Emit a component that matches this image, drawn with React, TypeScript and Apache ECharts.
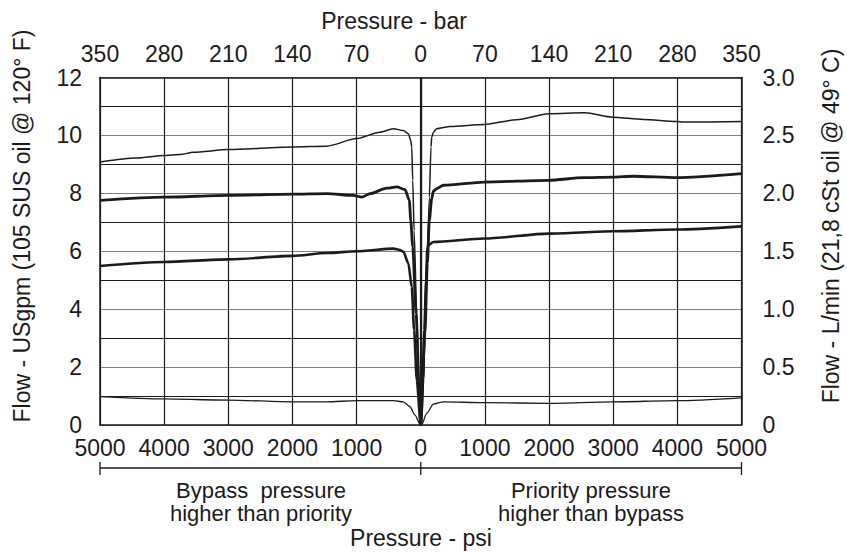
import React, { useEffect, useRef } from "react";
import * as echarts from "echarts";

// Pressure (psi, negative = bypass side) vs flow (USgpm)
const topThin: [number, number][] = [
  [-5000, 9.08], [-4430, 9.22], [-4000, 9.31], [-3750, 9.34], [-3545, 9.42], [-3000, 9.51],
  [-2000, 9.6], [-1466, 9.63], [-1000, 9.89], [-635, 10.11], [-427, 10.23], [-271, 10.17],
  [-193, 10.06], [-156, 9.83], [-140, 9.6], [-125, 8.45], [-104, 6.72], [-62, 3.86],
  [-22, 0.98], [0, 0], [41, 1.55], [93, 5.0], [134, 7.87], [160, 9.6], [171, 9.94],
  [197, 10.11], [249, 10.23], [457, 10.31], [992, 10.38], [1496, 10.54], [1995, 10.75],
  [2561, 10.78], [2993, 10.63], [3470, 10.55], [3990, 10.48], [4094, 10.46], [5000, 10.48],
];
const midThick: [number, number][] = [
  [-5000, 7.76], [-4000, 7.87], [-3000, 7.93], [-2000, 7.97], [-1466, 7.99], [-1050, 7.93],
  [-920, 7.87], [-790, 7.99], [-530, 8.18], [-374, 8.22], [-245, 8.13], [-178, 7.76],
  [-156, 7.07], [-125, 6.15], [-73, 3.85], [-22, 1.0], [0, 0], [67, 3.28], [103, 5.58],
  [134, 7.07], [171, 7.82], [197, 8.08], [249, 8.16], [353, 8.28], [992, 8.39], [1995, 8.45],
  [2535, 8.54], [2993, 8.56], [3317, 8.59], [3990, 8.54], [5000, 8.68],
];
const lowThick: [number, number][] = [
  [-5000, 5.49], [-4000, 5.63], [-3000, 5.72], [-2000, 5.84], [-1466, 5.94], [-1000, 6.0],
  [-427, 6.09], [-323, 6.04], [-271, 5.98], [-193, 5.58], [-140, 4.77], [-104, 3.28],
  [-62, 1.55], [0, 0], [36, 1.55], [56, 3.28], [83, 5.0], [103, 6.1], [119, 6.21],
  [197, 6.32], [992, 6.44], [1995, 6.61], [2993, 6.69], [3990, 6.75], [5000, 6.86],
];
const bottomThin: [number, number][] = [
  [-5000, 0.98], [-4000, 0.9], [-3000, 0.86], [-2000, 0.8], [-1466, 0.8], [-1000, 0.84],
  [-427, 0.84], [-271, 0.8], [-167, 0.63], [-89, 0.34], [-11, 0.02], [0, 0], [16, 0.02],
  [93, 0.4], [197, 0.72], [353, 0.8], [992, 0.77], [1995, 0.75], [2993, 0.8], [3990, 0.84],
  [5000, 0.94],
];

const psiTicks = [-5000, -4000, -3000, -2000, -1000, 0, 1000, 2000, 3000, 4000, 5000];
const barPerThousandPsi = 70;
const titles = {
  top: "Pressure - bar",
  bottom: "Pressure - psi",
  left: "Flow - USgpm (105 SUS oil @ 120° F)",
  right: "Flow - L/min (21,8 cSt oil @ 49° C)",
  bypass: ["Bypass  pressure", "higher than priority"],
  priority: ["Priority pressure", "higher than bypass"],
};

const FONT = "'Liberation Sans', Arial, Helvetica, sans-serif";
const INK = "#1c1a1b";

export default function App() {
  const ref = useRef<HTMLDivElement>(null);
  useEffect(() => {
    if (!ref.current) return;
    const chart = echarts.init(ref.current, null, { renderer: "svg" });
    const L = 100, R = 741.5, T = 77.5, B = 425;
    const cx = (L + R) / 2;
    const txt = (x: number, y: number, s: string, rot = 0, size = 23) => ({
      type: "text",
      x, y, rotation: rot,
      style: { text: s, fill: INK, font: `${size}px ${FONT}`, textAlign: "center", textVerticalAlign: "middle" },
    });
    const ln = (x1: number, y1: number, x2: number, y2: number) => ({
      type: "line",
      shape: { x1, y1, x2, y2 },
      style: { stroke: INK, lineWidth: 1.3 },
    });
    const mkSeries = (data: [number, number][], w: number, extra: any = {}) => ({
      type: "line",
      data,
      showSymbol: false,
      smooth: 0.25,
      smoothMonotone: "x",
      lineStyle: { color: INK, width: w },
      ...extra,
    });
    chart.setOption({
      animation: false,
      backgroundColor: "#fff",
      grid: { left: L, right: 847 - R, top: T, bottom: 553 - B, containLabel: false },
      xAxis: [
        {
          type: "value", position: "bottom", min: -5000, max: 5000, interval: 1000,
          axisLine: { show: true, onZero: false, lineStyle: { color: INK, width: 1.5 } },
          axisTick: { show: false },
          axisLabel: { color: INK, fontSize: 23, fontFamily: FONT, margin: 11, formatter: (v: number) => String(Math.abs(v)) },
          splitLine: { show: true, lineStyle: { color: INK, width: 1.2 } },
        },
        {
          type: "value", position: "top", min: -5000, max: 5000, interval: 1000,
          axisLine: { show: true, onZero: false, lineStyle: { color: INK, width: 1.5 } },
          axisTick: { show: false },
          axisLabel: { color: INK, fontSize: 23, fontFamily: FONT, margin: 12, formatter: (v: number) => String(Math.abs(v) / 1000 * barPerThousandPsi) },
          splitLine: { show: false },
        },
      ],
      yAxis: [
        {
          type: "value", position: "left", min: 0, max: 12, interval: 1,
          axisLine: { show: true, onZero: false, lineStyle: { color: INK, width: 1.5 } },
          axisTick: { show: false },
          axisLabel: { color: INK, fontSize: 23, fontFamily: FONT, margin: 18, formatter: (v: number) => (v % 2 === 0 ? String(v) : "") },
          splitLine: { show: true, lineStyle: { color: ["#7d7d7d", INK], width: 1.2 } },
        },
        {
          type: "value", position: "right", min: 0, max: 3, interval: 0.5,
          axisLine: { show: true, onZero: false, lineStyle: { color: INK, width: 1.5 } },
          axisTick: { show: false },
          axisLabel: { color: INK, fontSize: 23, fontFamily: FONT, margin: 21, formatter: (v: number) => (v === 0 ? "0" : v.toFixed(1)) },
          splitLine: { show: false },
        },
      ],
      series: [
        mkSeries(bottomThin, 1.3, {
          markLine: {
            symbol: "none", silent: true, label: { show: false },
            lineStyle: { color: INK, width: 2.2, type: "solid" },
            data: [{ xAxis: psiTicks[5] }],
          },
        }),
        mkSeries(lowThick, 2.6),
        mkSeries(midThick, 2.8),
        mkSeries(topThin, 1.5),
      ],
      graphic: [
        txt(394, 21, titles.top),
        txt(22, 226, titles.left, Math.PI / 2),
        txt(831, 226, titles.right, Math.PI / 2),
        ln(L, 468, R, 468),
        ln(L, 462, L, 475),
        ln(cx, 462, cx, 475),
        ln(R, 462, R, 475),
        txt(261, 490, titles.bypass[0], 0, 22),
        txt(261, 513, titles.bypass[1], 0, 22),
        txt(591, 490, titles.priority[0], 0, 22),
        txt(591, 513, titles.priority[1], 0, 22),
        txt(421, 538, titles.bottom),
      ],
    });
    return () => chart.dispose();
  }, []);
  return <div ref={ref} style={{ position: "fixed", left: 0, top: 0, width: 847, height: 553, background: "#fff" }} />;
}
